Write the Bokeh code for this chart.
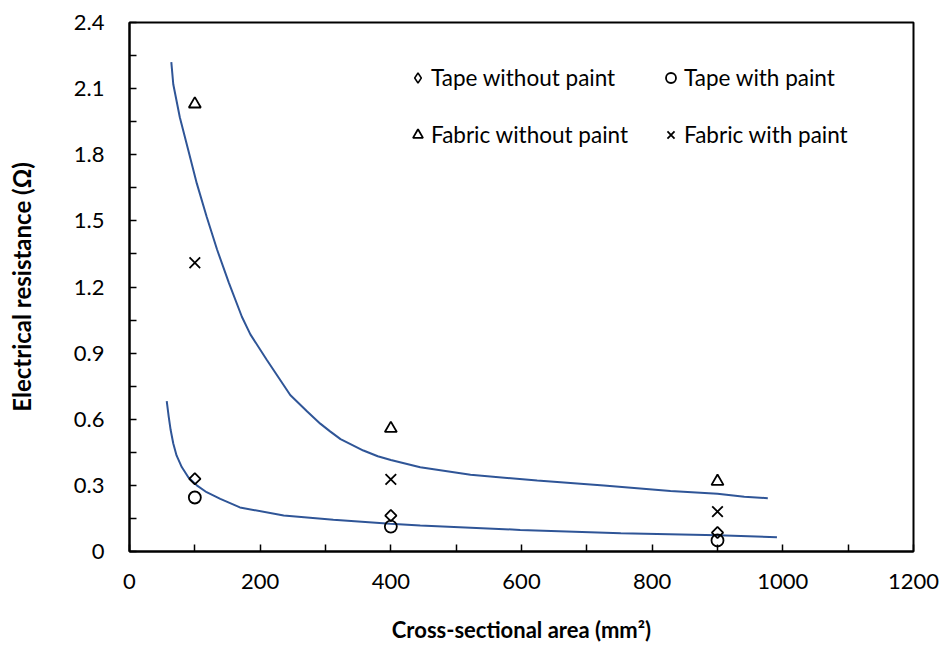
import math
from bokeh.plotting import figure
from bokeh.models import Legend, LegendItem, FixedTicker, Range1d
from bokeh.embed import file_html
from bokeh.resources import INLINE

# ---- data ----
areas = [100, 400, 900]
tape_without_paint = [0.33, 0.163, 0.086]
tape_with_paint = [0.245, 0.113, 0.05]
fabric_without_paint = [2.03, 0.558, 0.318]
fabric_with_paint = [1.31, 0.327, 0.181]

fabric_curve_x = [64, 67, 77, 90, 103, 118, 134, 152, 172, 185, 210, 246, 272, 292,
                  307, 323, 358, 380, 400, 445, 522, 624, 726, 828, 900, 941, 977]
fabric_curve_y = [2.22, 2.12, 1.97, 1.82, 1.67, 1.52, 1.37, 1.22, 1.065, 0.985, 0.87,
                  0.71, 0.635, 0.58, 0.545, 0.51, 0.458, 0.432, 0.415, 0.382, 0.348,
                  0.322, 0.299, 0.274, 0.262, 0.248, 0.242]

tape_curve_x = [57, 60, 63, 67, 72, 80, 90, 103, 118, 139, 169, 236, 312, 399, 445,
                598, 752, 900, 991]
tape_curve_y = [0.682, 0.612, 0.551, 0.49, 0.436, 0.383, 0.337, 0.30, 0.269, 0.239,
                0.20, 0.163, 0.144, 0.126, 0.118, 0.098, 0.083, 0.074, 0.065]

x_ticks = [0, 200, 400, 600, 800, 1000, 1200]
x_minor_ticks = [100, 300, 500, 700, 900, 1100]
y_ticks = [0, 0.3, 0.6, 0.9, 1.2, 1.5, 1.8, 2.1, 2.4]
y_tick_labels = ["0", "0.3", "0.6", "0.9", "1.2", "1.5", "1.8", "2.1", "2.4"]
y_minor_ticks = [0.15, 0.45, 0.75, 1.05, 1.35, 1.65, 1.95, 2.25]

series_labels = ["Tape without paint", "Tape with paint",
                 "Fabric without paint", "Fabric with paint"]

FONT = "Lato"
LINE_BLUE = "#2F5597"
NAN = float("nan")

p = figure(frame_width=784, frame_height=529,
           min_border_left=129, min_border_right=32,
           min_border_top=22, min_border_bottom=99,
           x_range=Range1d(0, 1200), y_range=Range1d(0, 2.4),
           output_backend="svg", toolbar_location=None)

p.xgrid.visible = False
p.ygrid.visible = False
p.outline_line_color = "black"
p.outline_line_width = 2
p.outline_line_alpha = 1

# trend curves
p.line(fabric_curve_x, fabric_curve_y, line_color=LINE_BLUE, line_width=2)
p.line(tape_curve_x, tape_curve_y, line_color=LINE_BLUE, line_width=2)

# data markers
r_tw = p.scatter(areas, tape_without_paint, marker="square", angle=math.pi / 4, size=8,
                 fill_color=None, line_color="black", line_width=1.8)
r_tp = p.scatter(areas, tape_with_paint, marker="circle", size=12,
                 fill_color=None, line_color="black", line_width=1.8)
r_fw = p.scatter(areas, fabric_without_paint, marker="triangle", size=12,
                 fill_color=None, line_color="black", line_width=1.8)
r_fp = p.scatter(areas, fabric_with_paint, marker="x", size=15,
                 fill_color=None, line_color="black", line_width=1.8)
# legend-only swatch for the diamond series (legend glyphs ignore marker angle);
# a single non-plotted (NaN) row so nothing appears in the plot area
r_tw_key = p.scatter([NAN], [NAN], marker="diamond", size=10,
                     fill_color=None, line_color="black", line_width=1.5)

# axes
for ax in (p.xaxis[0], p.yaxis[0]):
    ax.axis_line_color = "black"
    ax.axis_line_width = 2
    ax.major_tick_in = 7
    ax.major_tick_out = 0
    ax.minor_tick_in = 7
    ax.minor_tick_out = 0
    ax.major_tick_line_width = 1.5
    ax.minor_tick_line_width = 1.5
    ax.major_tick_line_color = "black"
    ax.minor_tick_line_color = "black"
    ax.major_label_text_font = FONT
    ax.major_label_text_font_size = "22px"
    ax.major_label_text_color = "black"
    ax.axis_label_text_font = FONT
    ax.axis_label_text_font_style = "bold"
    ax.axis_label_text_color = "black"

p.xaxis[0].ticker = FixedTicker(ticks=x_ticks, minor_ticks=x_minor_ticks)
p.yaxis[0].ticker = FixedTicker(ticks=y_ticks, minor_ticks=y_minor_ticks)
p.yaxis[0].major_label_overrides = dict(zip(y_ticks, y_tick_labels))
p.xaxis[0].major_label_standoff = 22
p.yaxis[0].major_label_standoff = 25
p.xaxis[0].axis_label = "Cross-sectional area (mm\u00b2)"
p.yaxis[0].axis_label = "Electrical resistance (\u03a9)"
p.xaxis[0].axis_label_text_font_size = "22px"
p.yaxis[0].axis_label_text_font_size = "24px"
p.xaxis[0].axis_label_standoff = 24
p.yaxis[0].axis_label_standoff = 35

legend = Legend(
    items=[LegendItem(label=series_labels[0], renderers=[r_tw_key]),
           LegendItem(label=series_labels[1], renderers=[r_tp]),
           LegendItem(label=series_labels[2], renderers=[r_fw]),
           LegendItem(label=series_labels[3], renderers=[r_fp])],
    orientation="horizontal", nrows=2,
    location=(276, 403),
    border_line_color=None, background_fill_alpha=0,
    padding=0, margin=0, spacing=30,
    glyph_width=25, glyph_height=25, label_standoff=1,
    label_width=190, label_height=25,
    label_text_font=FONT, label_text_font_size="22.5px", label_text_color="black",
)
p.add_layout(legend, "center")

open("out.html", "w").write(file_html(p, INLINE))
